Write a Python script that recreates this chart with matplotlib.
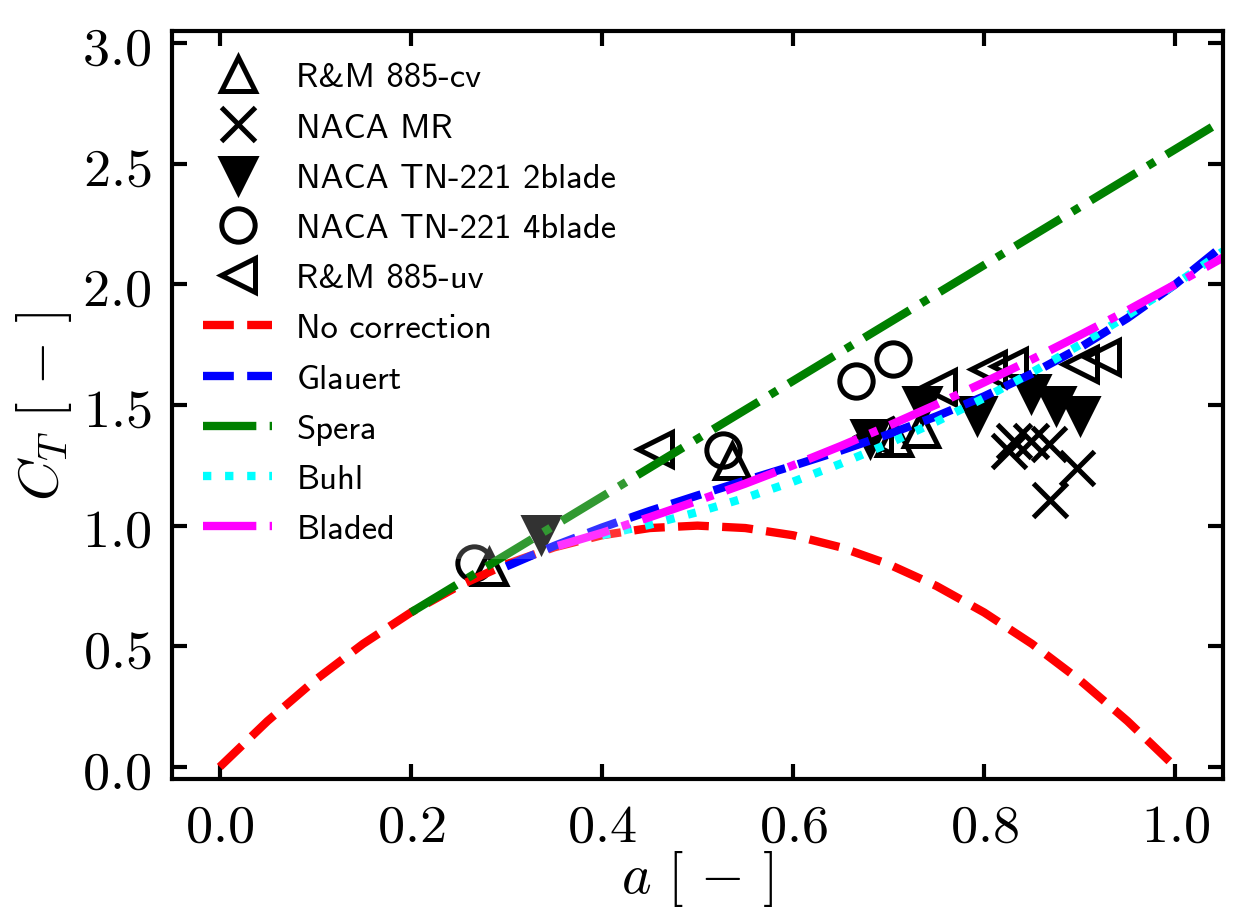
import matplotlib
matplotlib.use('Agg')
import matplotlib.pyplot as plt
from matplotlib.ticker import FormatStrFormatter

plt.rcParams['mathtext.fontset'] = 'cm'

# measured data (a, CT)
rm_cv_a = [0.282, 0.536, 0.706, 0.734]
rm_cv_ct = [0.83, 1.266, 1.365, 1.40]
naca_mr_a = [0.826, 0.831, 0.849, 0.868, 0.869, 0.897]
naca_mr_ct = [1.31, 1.35, 1.35, 1.34, 1.105, 1.24]
tn2_a = [0.336, 0.681, 0.735, 0.792, 0.849, 0.875, 0.900]
tn2_ct = [0.965, 1.362, 1.50, 1.46, 1.55, 1.50, 1.46]
tn4_a = [0.266, 0.527, 0.666, 0.705]
tn4_ct = [0.845, 1.312, 1.598, 1.689]
rm_uv_a = [0.455, 0.685, 0.752, 0.804, 0.826, 0.900, 0.923]
rm_uv_ct = [1.316, 1.37, 1.575, 1.65, 1.66, 1.67, 1.70]

# model curves
a_nocorr = [0.00, 0.05, 0.10, 0.15, 0.20, 0.25, 0.30, 0.35, 0.40, 0.45, 0.50,
            0.55, 0.60, 0.65, 0.70, 0.75, 0.80, 0.85, 0.90, 0.95, 1.00]
ct_nocorr = [0.00, 0.19, 0.36, 0.51, 0.64, 0.75, 0.84, 0.91, 0.96, 0.99, 1.00,
             0.99, 0.96, 0.91, 0.84, 0.75, 0.64, 0.51, 0.36, 0.19, 0.00]

a_glauert = [0.30, 0.35, 0.40, 0.45, 0.50, 0.55, 0.60, 0.65, 0.70, 0.75,
             0.80, 0.85, 0.90, 0.95, 1.00, 1.05]
ct_glauert = [0.831, 0.916, 0.992, 1.061, 1.125, 1.187, 1.248, 1.311, 1.379,
              1.453, 1.536, 1.630, 1.737, 1.860, 2.000, 2.160]

a_spera = [0.20, 0.30, 0.40, 0.50, 0.60, 0.70, 0.80, 0.90, 1.00, 1.05]
ct_spera = [0.64, 0.88, 1.12, 1.36, 1.60, 1.84, 2.08, 2.32, 2.56, 2.68]

a_buhl = [0.40, 0.45, 0.50, 0.55, 0.60, 0.65, 0.70, 0.75, 0.80, 0.85,
          0.90, 0.95, 1.00, 1.05]
ct_buhl = [0.960, 1.004, 1.056, 1.115, 1.182, 1.257, 1.340, 1.431, 1.529,
           1.635, 1.749, 1.871, 2.000, 2.137]

a_bladed = [0.354, 0.40, 0.45, 0.50, 0.55, 0.60, 0.65, 0.70, 0.75, 0.80,
            0.85, 0.90, 0.95, 1.00, 1.05]
ct_bladed = [0.916, 0.970, 1.035, 1.103, 1.174, 1.250, 1.330, 1.414, 1.502,
             1.594, 1.689, 1.789, 1.892, 2.000, 2.111]

fig = plt.figure(figsize=(4.16, 3.0833), dpi=300)
ax = fig.add_axes([0.1378, 0.1568, 0.8422, 0.8086])

mk = dict(ls='none', ms=8, mew=1.2)
ax.plot(rm_cv_a, rm_cv_ct, marker='^', mfc='none', mec='k', label='R&M 885-cv', **mk)
ax.plot(naca_mr_a, naca_mr_ct, marker='x', color='k', label='NACA MR', **mk)
ax.plot(tn2_a, tn2_ct, marker='v', color='k', label='NACA TN-221 2blade', **mk)
ax.plot(tn4_a, tn4_ct, marker='o', mfc='none', mec='k', label='NACA TN-221 4blade', **mk)
ax.plot(rm_uv_a, rm_uv_ct, marker='<', mfc='none', mec='k', label='R&M 885-uv', **mk)

ax.plot(a_nocorr, ct_nocorr, '--', color='red', lw=2, label='No correction')
ax.plot(a_glauert, ct_glauert, '--', color='blue', lw=2, label='Glauert')
ax.plot(a_spera, ct_spera, '-.', color='green', lw=2, label='Spera')
ax.plot(a_buhl, ct_buhl, ':', color='cyan', lw=2, label='Buhl')
ax.plot(a_bladed, ct_bladed, '-.', color='magenta', lw=2, label='Bladed')

ax.set_xlim(-0.05, 1.05)
ax.set_ylim(-0.05, 3.05)
ax.set_xticks([0.0, 0.2, 0.4, 0.6, 0.8, 1.0])
ax.set_yticks([0.0, 0.5, 1.0, 1.5, 2.0, 2.5, 3.0])
ax.xaxis.set_major_formatter(FormatStrFormatter(r'$%.1f$'))
ax.yaxis.set_major_formatter(FormatStrFormatter(r'$%.1f$'))
ax.tick_params(direction='in', top=True, right=True, length=3.5, width=1.0,
               labelsize=13, pad=5)
for s in ax.spines.values():
    s.set_linewidth(1.0)

ax.set_xlabel(r'$a\ [\,-\,]$', fontsize=13.5, labelpad=-1)
ax.set_ylabel(r'$C_T\ [\,-\,]$', fontsize=13.5, labelpad=2)

# legend box is only slightly opaque
leg = ax.legend(loc='upper left', prop={'family': ['cmss10', 'DejaVu Sans'], 'size': 8.3},
                frameon=True, framealpha=0.2, edgecolor='none', fancybox=False,
                labelspacing=0.55, borderaxespad=0.5, handletextpad=0.7)

fig.savefig('out.png', dpi=300)
